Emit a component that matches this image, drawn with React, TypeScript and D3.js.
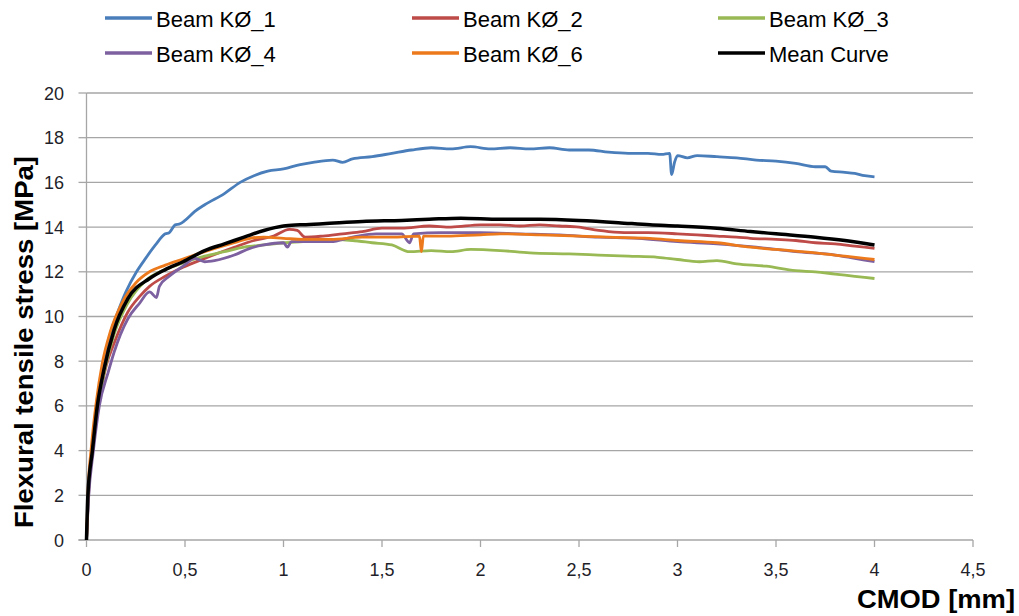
import React from "react";
import * as d3 from "d3";

type Pt = [number, number];

// CMOD [mm] / stress [MPa]
const beam1: Pt[] = [
  [0, 0], [0.01, 2.2], [0.03, 4.3], [0.055, 6.2], [0.08, 7.6], [0.1, 8.5], [0.12, 9.2],
  [0.155, 10.1], [0.2, 11.1], [0.254, 12.0], [0.3, 12.6], [0.35, 13.2], [0.4, 13.7],
  [0.42, 13.75], [0.45, 14.1], [0.475, 14.15], [0.5, 14.3], [0.55, 14.7], [0.6, 15.0],
  [0.7, 15.5], [0.78, 16.0], [0.85, 16.3], [0.92, 16.5], [1.0, 16.6], [1.085, 16.8],
  [1.15, 16.9], [1.25, 17.0], [1.3, 16.9], [1.35, 17.05], [1.45, 17.15], [1.55, 17.3],
  [1.65, 17.45], [1.75, 17.55], [1.85, 17.5], [1.95, 17.6], [2.05, 17.5], [2.15, 17.55],
  [2.25, 17.5], [2.35, 17.55], [2.45, 17.45], [2.55, 17.45], [2.65, 17.35], [2.75, 17.3],
  [2.85, 17.3], [2.92, 17.25], [2.96, 17.3], [2.97, 16.35], [2.985, 16.9], [3.0, 17.2],
  [3.05, 17.1], [3.1, 17.2], [3.2, 17.15], [3.3, 17.1], [3.4, 17.0], [3.5, 16.95],
  [3.6, 16.85], [3.7, 16.7], [3.75, 16.7], [3.78, 16.5], [3.85, 16.45], [3.9, 16.4],
  [3.95, 16.3], [4.0, 16.25],
];
const beam2: Pt[] = [
  [0, 0], [0.01, 2.0], [0.03, 4.0], [0.06, 6.0], [0.1, 7.8], [0.14, 8.8], [0.21, 10.2],
  [0.27, 10.9], [0.32, 11.35], [0.4, 11.8], [0.49, 12.2], [0.6, 12.6], [0.75, 13.1],
  [0.85, 13.4], [0.95, 13.6], [1.03, 13.9], [1.07, 13.85], [1.11, 13.55], [1.2, 13.6],
  [1.3, 13.7], [1.4, 13.8], [1.5, 13.95], [1.6, 13.95], [1.74, 14.05], [1.85, 14.0],
  [2.0, 14.1], [2.1, 14.1], [2.2, 14.05], [2.3, 14.1], [2.4, 14.05], [2.5, 14.0],
  [2.6, 13.85], [2.65, 13.8], [2.75, 13.75], [2.85, 13.75], [3.0, 13.7], [3.1, 13.65],
  [3.2, 13.6], [3.3, 13.55], [3.37, 13.5], [3.5, 13.45], [3.6, 13.4], [3.7, 13.3],
  [3.8, 13.25], [3.9, 13.15], [4.0, 13.05],
];
const beam3: Pt[] = [
  [0, 0], [0.01, 2.1], [0.03, 4.1], [0.06, 6.1], [0.1, 7.9], [0.14, 9.2], [0.21, 10.6],
  [0.3, 11.6], [0.4, 12.1], [0.49, 12.4], [0.6, 12.7], [0.7, 12.9], [0.8, 13.1],
  [0.9, 13.2], [1.0, 13.3], [1.1, 13.35], [1.24, 13.45], [1.35, 13.4], [1.45, 13.3],
  [1.55, 13.2], [1.64, 12.9], [1.75, 12.95], [1.85, 12.9], [1.95, 13.0], [2.1, 12.95],
  [2.25, 12.85], [2.45, 12.8], [2.6, 12.75], [2.75, 12.7], [2.9, 12.65], [3.0, 12.55],
  [3.11, 12.45], [3.2, 12.5], [3.3, 12.35], [3.45, 12.25], [3.6, 12.05], [3.7, 12.0],
  [3.8, 11.9], [3.9, 11.8], [4.0, 11.7],
];
const beam4: Pt[] = [
  [0, 0], [0.01, 1.8], [0.035, 4.0], [0.065, 6.0], [0.11, 7.5], [0.14, 8.4], [0.21, 9.9],
  [0.27, 10.6], [0.32, 11.1], [0.355, 10.85], [0.37, 11.35], [0.42, 11.8], [0.49, 12.25],
  [0.55, 12.6], [0.6, 12.45], [0.65, 12.5], [0.75, 12.75], [0.83, 13.05], [0.9, 13.2],
  [1.0, 13.3], [1.02, 13.1], [1.04, 13.35], [1.15, 13.35], [1.24, 13.35], [1.35, 13.55],
  [1.47, 13.7], [1.6, 13.7], [1.64, 13.3], [1.66, 13.7], [1.8, 13.75], [2.0, 13.75],
  [2.2, 13.7], [2.4, 13.65], [2.6, 13.55], [2.8, 13.5], [3.0, 13.35], [3.2, 13.25],
  [3.4, 13.1], [3.5, 13.0], [3.6, 12.9], [3.8, 12.75], [3.9, 12.6], [4.0, 12.45],
];
const beam6: Pt[] = [
  [0, 0], [0.008, 2.2], [0.025, 4.2], [0.05, 6.2], [0.08, 7.9], [0.12, 9.3], [0.18, 10.6],
  [0.25, 11.5], [0.32, 12.0], [0.4, 12.3], [0.5, 12.6], [0.6, 12.9], [0.75, 13.3],
  [0.83, 13.5], [0.9, 13.55], [1.0, 13.5], [1.1, 13.45], [1.24, 13.45], [1.4, 13.55],
  [1.55, 13.55], [1.69, 13.6], [1.7, 12.9], [1.71, 13.6], [1.85, 13.6], [2.0, 13.65],
  [2.1, 13.7], [2.3, 13.65], [2.5, 13.6], [2.65, 13.55], [2.86, 13.5], [3.0, 13.4],
  [3.2, 13.3], [3.37, 13.1], [3.5, 13.0], [3.7, 12.85], [3.85, 12.7], [4.0, 12.55],
];
const meanCurve: Pt[] = [
  [0, 0], [0.007, 2.0], [0.03, 4.0], [0.055, 6.0], [0.088, 7.6], [0.14, 9.4], [0.21, 10.8],
  [0.32, 11.7], [0.4, 12.1], [0.49, 12.45], [0.6, 12.95], [0.7, 13.25], [0.8, 13.55],
  [0.9, 13.85], [1.0, 14.05], [1.085, 14.1], [1.2, 14.15], [1.4, 14.25], [1.6, 14.3],
  [1.74, 14.35], [1.9, 14.4], [2.1, 14.35], [2.3, 14.35], [2.5, 14.3], [2.7, 14.2],
  [2.86, 14.1], [3.0, 14.05], [3.2, 13.95], [3.37, 13.8], [3.5, 13.7], [3.7, 13.55],
  [3.85, 13.4], [4.0, 13.2],
];

const seriesNames = ["Beam KØ_1", "Beam KØ_2", "Beam KØ_3", "Beam KØ_4", "Beam KØ_6", "Mean Curve"];
const seriesData = [beam1, beam2, beam3, beam4, beam6, meanCurve];
const seriesColors = ["#4a7ebb", "#be4b48", "#98b954", "#7d60a0", "#ec7a1c", "#000000"];

const xTicks = [0, 0.5, 1, 1.5, 2, 2.5, 3, 3.5, 4, 4.5];
const yTicks = [0, 2, 4, 6, 8, 10, 12, 14, 16, 18, 20];

const W = 1019;
const H = 616;
const font = "'Liberation Sans', Arial, sans-serif";

export default function App() {
  const x = d3.scaleLinear().domain([0, 4.5]).range([86.5, 973]);
  const y = d3.scaleLinear().domain([0, 20]).range([540, 93]);

  const line = d3
    .line<Pt>()
    .x((d) => x(d[0]))
    .y((d) => y(d[1]))
    .curve(d3.curveMonotoneX);

  const fmt = (v: number) => String(v).replace(".", ",");

  // legend grid: 3 columns, 2 rows
  const legX = [105, 412, 718];
  const legY = [18, 53];

  return (
    <svg
      width={W}
      height={H}
      style={{ position: "absolute", left: 0, top: 0, background: "#fff" }}
    >
      {/* grid */}
      {yTicks.slice(1).map((t) => (
        <line key={"g" + t} x1={x(0)} x2={x(4.5)} y1={y(t)} y2={y(t)} stroke="#a6a6a6" strokeWidth={1.3} />
      ))}
      {/* axes */}
      <line x1={x(0)} x2={x(0)} y1={y(0) + 0.5} y2={y(20)} stroke="#a6a6a6" strokeWidth={1.3} />
      <line x1={x(0) - 8} x2={x(4.5)} y1={y(0)} y2={y(0)} stroke="#a6a6a6" strokeWidth={1.3} />
      {yTicks.map((t) => (
        <g key={"y" + t}>
          <line x1={x(0) - 8} x2={x(0)} y1={y(t)} y2={y(t)} stroke="#a6a6a6" strokeWidth={1.3} />
          <text x={64} y={y(t) + 6.5} textAnchor="end" fontFamily={font} fontSize={18} fill="#1f1f2a">
            {fmt(t)}
          </text>
        </g>
      ))}
      {xTicks.map((t) => (
        <g key={"x" + t}>
          <line x1={x(t)} x2={x(t)} y1={y(0)} y2={y(0) + 7} stroke="#a6a6a6" strokeWidth={1.3} />
          <text x={x(t)} y={576} textAnchor="middle" fontFamily={font} fontSize={18} fill="#1f1f2a">
            {fmt(t)}
          </text>
        </g>
      ))}

      {/* curves */}
      {seriesData.map((s, i) => (
        <path
          key={seriesNames[i]}
          d={line(s) ?? ""}
          fill="none"
          stroke={seriesColors[i]}
          strokeWidth={i === 5 ? 3.5 : 2.8}
          strokeLinejoin="round"
        />
      ))}

      {/* axis titles */}
      <text
        x={1015}
        y={608}
        textAnchor="end"
        fontFamily={font}
        fontWeight="bold"
        fontSize={25}
        textLength={158}
        lengthAdjust="spacingAndGlyphs"
        fill="#000"
      >
        CMOD [mm]
      </text>
      <text
        transform={`translate(33,342) rotate(-90)`}
        textAnchor="middle"
        fontFamily={font}
        fontWeight="bold"
        fontSize={25}
        textLength={372}
        lengthAdjust="spacingAndGlyphs"
        fill="#000"
      >
        Flexural tensile stress [MPa]
      </text>

      {/* legend */}
      {seriesNames.map((n, i) => {
        const lx = legX[i % 3];
        const ly = legY[Math.floor(i / 3)];
        return (
          <g key={"l" + n}>
            <line x1={lx} x2={lx + 47} y1={ly} y2={ly} stroke={seriesColors[i]} strokeWidth={3.5} />
            <text x={lx + 51} y={ly + 8.5} fontFamily={font} fontSize={22} fill="#000">
              {n}
            </text>
          </g>
        );
      })}
    </svg>
  );
}
